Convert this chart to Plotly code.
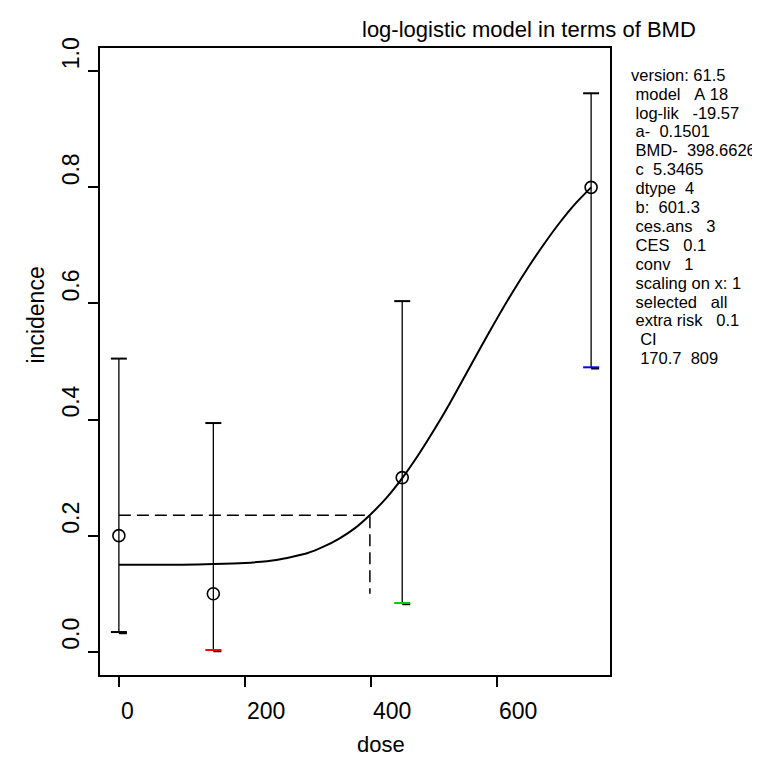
import plotly.graph_objects as go

# ---- data ----
dose = [0, 150, 450, 750]
incidence = [0.2, 0.1, 0.3, 0.8]
ci_upper = [0.505, 0.394, 0.604, 0.962]
ci_lower = [0.034, 0.003, 0.084, 0.490]
lower_cap_colors = ["black", "#FF0000", "#00CD00", "#0000FF"]

curve_dose = [0, 50, 100, 150, 200, 250, 300, 325, 350, 375, 400, 425, 450,
              475, 500, 525, 550, 575, 600, 625, 650, 675, 700, 725, 750]
curve_inc = [0.150, 0.150, 0.150, 0.151, 0.153, 0.158, 0.170, 0.181, 0.195,
             0.213, 0.237, 0.265, 0.299, 0.338, 0.381, 0.427, 0.476, 0.525,
             0.573, 0.619, 0.662, 0.702, 0.739, 0.772, 0.800]

bmd = 398.66
bmd_response = 0.235
bmd_floor = 0.10

x_ticks = [0, 200, 400, 600]
y_ticks = [0.0, 0.2, 0.4, 0.6, 0.8, 1.0]

info_lines = ["version: 61.5", " model   A 18", " log-lik   -19.57", " a-  0.1501",
              " BMD-  398.6626", " c  5.3465", " dtype  4", " b:  601.3",
              " ces.ans   3", " CES   0.1", " conv   1", " scaling on x: 1",
              " selected   all", " extra risk   0.1", "  CI", "  170.7  809"]

title_text = "log-logistic model in terms of BMD"
x_title = "dose"
y_title = "incidence"

# ---- layout geometry ----
W, H = 760, 757
L, R, T, B = 92, 158, 40, 90
PW, PH = W - L - R, H - T - B
FONT = "Liberation Sans, Arial, sans-serif"

x_lo = min(dose) - 0.04 * (max(dose) - min(dose))
x_hi = max(dose) + 0.04 * (max(dose) - min(dose))
y_lo, y_hi = -0.04, 1.04
px_per_x = PW / (x_hi - x_lo)
px_per_y = PH / (y_hi - y_lo)


def paper_x(px):
    return (px - L) / PW


def paper_y(py):
    return (H - B - py) / PH


fig = go.Figure()

# fitted curve
fig.add_trace(go.Scatter(x=curve_dose, y=curve_inc, mode="lines",
                         line=dict(color="black", width=2, shape="spline", smoothing=0.6),
                         hoverinfo="skip", showlegend=False))

# BMD dashed lines
fig.add_trace(go.Scatter(x=[0, bmd, bmd], y=[bmd_response, bmd_response, bmd_floor],
                         mode="lines", line=dict(color="black", width=1.5, dash="12px,6px"),
                         hoverinfo="skip", showlegend=False))

# error bars (vertical)
ex, ey = [], []
for d, lo, hi in zip(dose, ci_lower, ci_upper):
    ex += [d, d, None]
    ey += [lo, hi, None]
fig.add_trace(go.Scatter(x=ex, y=ey, mode="lines", line=dict(color="black", width=1.3),
                         hoverinfo="skip", showlegend=False))

cap = 8 / px_per_x
dy = 1.2 / px_per_y
# upper caps
cx, cy = [], []
for d, hi in zip(dose, ci_upper):
    cx += [d - cap, d + cap, None]
    cy += [hi, hi, None]
fig.add_trace(go.Scatter(x=cx, y=cy, mode="lines", line=dict(color="black", width=2),
                         hoverinfo="skip", showlegend=False))
# lower caps: short black stub, then coloured cap
bx, by = [], []
for d, lo in zip(dose, ci_lower):
    bx += [d, d + cap, None]
    by += [lo - dy, lo - dy, None]
fig.add_trace(go.Scatter(x=bx, y=by, mode="lines", line=dict(color="black", width=2),
                         hoverinfo="skip", showlegend=False))
for d, lo, col in zip(dose, ci_lower, lower_cap_colors):
    fig.add_trace(go.Scatter(x=[d - cap, d + cap], y=[lo, lo], mode="lines",
                             line=dict(color=col, width=2),
                             hoverinfo="skip", showlegend=False))

# observed points
fig.add_trace(go.Scatter(x=dose, y=incidence, mode="markers",
                         marker=dict(symbol="circle-open", size=12, color="black",
                                     line=dict(width=1.6, color="black")),
                         hoverinfo="skip", showlegend=False))

ann = []
# x tick labels (left-anchored at the tick, as in the reference)
for t in x_ticks:
    ann.append(dict(x=t, xref="x", y=paper_y(703), yref="paper", text=str(t),
                    showarrow=False, xanchor="left", yanchor="middle",
                    font=dict(family=FONT, size=23, color="black")))
# y tick labels (rotated, starting at the tick)
for v in y_ticks:
    ann.append(dict(x=paper_x(63), xref="paper", y=v, yref="y", text=f"{v:.1f}",
                    showarrow=False, xanchor="center", yanchor="bottom", textangle=-90,
                    font=dict(family=FONT, size=23, color="black")))
# axis titles
ann.append(dict(x=paper_x(347), xref="paper", y=paper_y(751), yref="paper", text=x_title,
                showarrow=False, xanchor="left", yanchor="bottom",
                font=dict(family=FONT, size=22, color="black")))
ann.append(dict(x=paper_x(27), xref="paper", y=paper_y(358), yref="paper", text=y_title,
                showarrow=False, xanchor="center", yanchor="bottom", textangle=-90,
                font=dict(family=FONT, size=23, color="black")))
# title
ann.append(dict(x=paper_x(352), xref="paper", y=paper_y(21), yref="paper", text=title_text,
                showarrow=False, xanchor="left", yanchor="middle",
                font=dict(family=FONT, size=22, color="black")))
# info text
for i, line in enumerate(info_lines):
    ann.append(dict(x=paper_x(621), xref="paper", y=paper_y(66.7 + i * 18.9), yref="paper",
                    text=line.replace(" ", "\u00a0"), showarrow=False,
                    xanchor="left", yanchor="middle",
                    font=dict(family=FONT, size=16.5, color="black")))

axis_common = dict(showgrid=False, zeroline=False, showline=True, mirror=True,
                   linecolor="black", linewidth=2, ticks="outside", ticklen=10,
                   tickwidth=1.5, tickcolor="black", showticklabels=False)

fig.update_layout(
    width=W, height=H,
    margin=dict(l=L, r=R, t=T, b=B, pad=0),
    paper_bgcolor="white", plot_bgcolor="white",
    xaxis=dict(range=[x_lo, x_hi], tickvals=x_ticks, **axis_common),
    yaxis=dict(range=[y_lo, y_hi], tickvals=y_ticks, **axis_common),
    annotations=ann,
    showlegend=False,
)

fig.write_html("out.html")
